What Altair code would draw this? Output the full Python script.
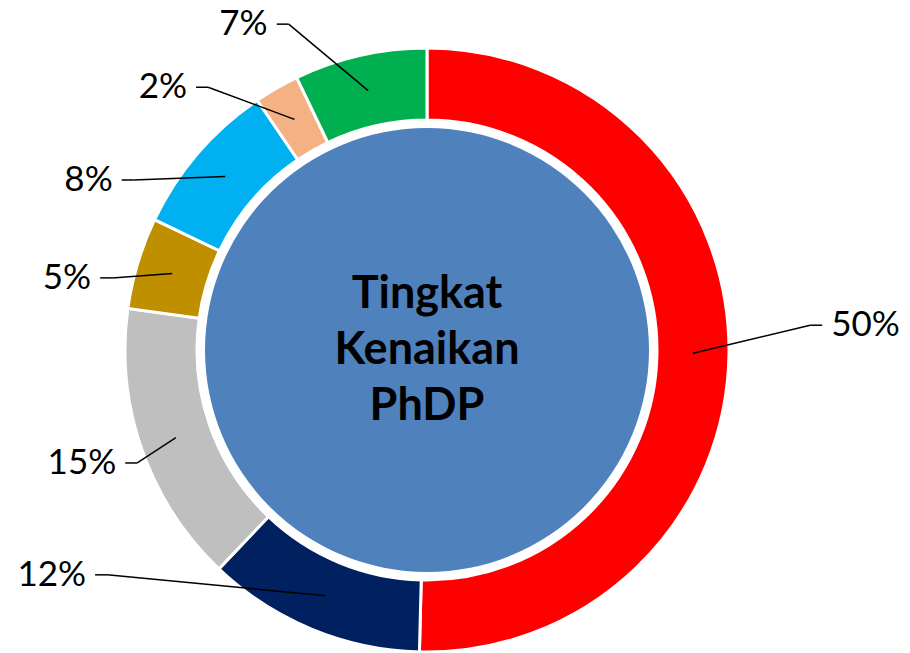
import math
import altair as alt
import pandas as pd

# ---- data ----
labels = ["50%", "12%", "15%", "5%", "8%", "2%", "7%"]
values = [50.4, 11.7, 15.1, 4.9, 8.4, 2.4, 7.1]
colors = ["#FF0000", "#002060", "#BFBFBF", "#BF8F00", "#00B0F0", "#F4B183", "#00B050"]
center_text = ["Tingkat", "Kenaikan", "PhDP"]

# ---- layout (pixels) ----
W, H = 910, 653
CX, CY = 427, 350
R_OUT, R_IN, R_CORE, R_LEADER = 302, 230, 222, 266
# label elbow placement: angle (deg clockwise from top) and distance from centre
label_angle = [86.3, 234.9, 248.7, 282.9, 300.1, 320.2, 337.0]
label_radius = [384, 391, 311, 323, 339, 342, 354]
ELBOW, GAP = 12, 9
FONT = "Lato"
LINE_H = 56

total = sum(values)
rows, seg_rows, txt_rows = [], [], []
cum = 0.0
for i, (lab, v) in enumerate(zip(labels, values)):
    mid = (cum + v / 2) / total * 2 * math.pi
    cum += v
    rows.append({"idx": i, "label": lab, "value": v, "cx": 0.0, "cy": 0.0})
    sx, sy = R_LEADER * math.sin(mid), R_LEADER * math.cos(mid)
    b = math.radians(label_angle[i])
    ex, ey = label_radius[i] * math.sin(b), label_radius[i] * math.cos(b)
    side = 1 if ex > 0 else -1
    hx = ex + side * ELBOW
    seg_rows.append({"x": sx, "y": sy, "x2": ex, "y2": ey})
    seg_rows.append({"x": ex, "y": ey, "x2": hx, "y2": ey})
    txt_rows.append({"x": hx + side * GAP, "y": ey, "label": lab,
                     "side": "right" if side > 0 else "left"})

df = pd.DataFrame(rows)
segs = pd.DataFrame(seg_rows)
txt = pd.DataFrame(txt_rows)
centre = pd.DataFrame({"x": [0.0], "y": [0.0], "t": ["\n".join(center_text)]})

xs = alt.Scale(domain=[-CX, W - CX], nice=False, zero=False)
ys = alt.Scale(domain=[-(H - CY), CY], nice=False, zero=False)

# Vega circle symbol: radius = sqrt(size) / 2
core = alt.Chart(centre).mark_circle(
    size=(2 * R_CORE) ** 2, color="#4F81BD", opacity=1
).encode(
    x=alt.X("x:Q", scale=xs, axis=None),
    y=alt.Y("y:Q", scale=ys, axis=None),
)

arcs = alt.Chart(df).transform_window(
    cum_end="sum(value)", sort=[alt.SortField("idx")], frame=[None, 0]
).transform_calculate(
    cum_start="datum.cum_end - datum.value"
).mark_arc(
    innerRadius=R_IN, outerRadius=R_OUT, stroke="white", strokeWidth=3
).encode(
    theta=alt.Theta("cum_start:Q", scale=alt.Scale(domain=[0, total], range=[0, 2 * math.pi])),
    theta2="cum_end:Q",
    color=alt.Color("label:N", scale=alt.Scale(domain=labels, range=colors), legend=None),
    x=alt.X("cx:Q", scale=xs, axis=None),
    y=alt.Y("cy:Q", scale=ys, axis=None),
)

leaders = alt.Chart(segs).mark_rule(color="black", strokeWidth=1.5).encode(
    x=alt.X("x:Q", scale=xs, axis=None),
    y=alt.Y("y:Q", scale=ys, axis=None),
    x2="x2:Q",
    y2="y2:Q",
)

txt_right = alt.Chart(txt).transform_filter(alt.datum.side == "right").mark_text(
    align="left", baseline="middle", fontSize=35, font=FONT, color="black"
).encode(
    x=alt.X("x:Q", scale=xs, axis=None),
    y=alt.Y("y:Q", scale=ys, axis=None),
    text="label:N",
)
txt_left = alt.Chart(txt).transform_filter(alt.datum.side == "left").mark_text(
    align="right", baseline="middle", fontSize=35, font=FONT, color="black"
).encode(
    x=alt.X("x:Q", scale=xs, axis=None),
    y=alt.Y("y:Q", scale=ys, axis=None),
    text="label:N",
)

title_txt = alt.Chart(centre).mark_text(
    align="center", baseline="middle", fontSize=45, fontWeight="bold",
    font=FONT, color="black", lineHeight=LINE_H, lineBreak="\n",
    dy=-LINE_H * (len(center_text) - 1) / 2,
).encode(
    x=alt.X("x:Q", scale=xs, axis=None),
    y=alt.Y("y:Q", scale=ys, axis=None),
    text="t:N",
)

chart = alt.layer(core, arcs, leaders, txt_right, txt_left, title_txt).properties(
    width=W, height=H, autosize=alt.AutoSizeParams(type="none"), padding=0,
    background="white",
).configure_view(stroke=None)

chart.save("out.html", embed_options={"renderer": "svg", "actions": False})
